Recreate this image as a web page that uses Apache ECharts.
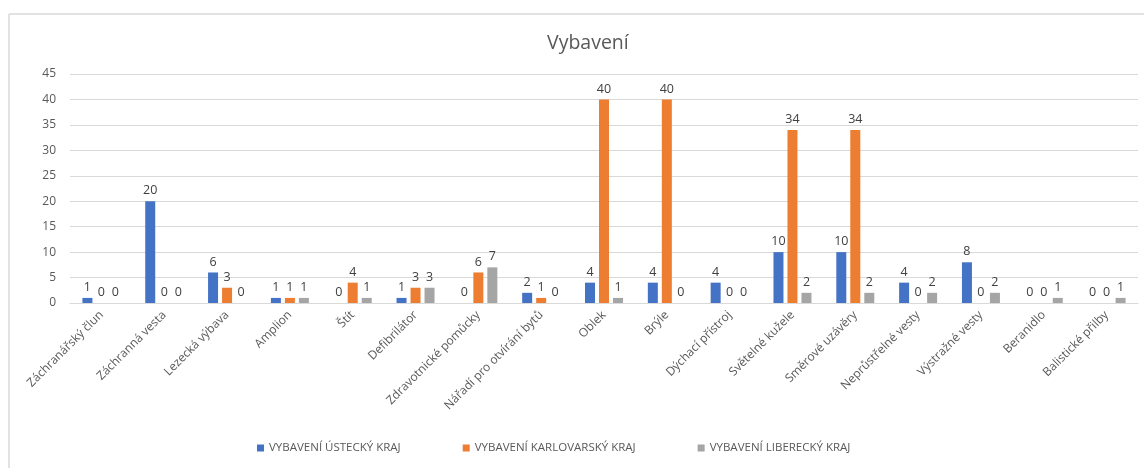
<!DOCTYPE html>
<html>
<head>
<meta charset="utf-8">
<script src="https://cdn.jsdelivr.net/npm/echarts@6/dist/echarts.min.js"></script>
<style>
  html, body { margin: 0; padding: 0; background: #fff; }
  #chart { width: 1144px; height: 468px; }
</style>
</head>
<body>
<div id="chart"></div>
<script>
var categories = ['Záchranářský člun', 'Záchranná vesta', 'Lezecká výbava', 'Amplion', 'Štít', 'Defibrilátor',
  'Zdravotnické pomůcky', 'Nářadí pro otvírání bytů', 'Oblek', 'Brýle', 'Dýchací přístroj', 'Světelné kužele',
  'Směrové uzávěry', 'Neprůstřelné vesty', 'Výstražné vesty', 'Beranidlo', 'Balistické přilby'];
var seriesNames = ['VYBAVENÍ ÚSTECKÝ KRAJ', 'VYBAVENÍ KARLOVARSKÝ KRAJ', 'VYBAVENÍ LIBERECKÝ KRAJ'];
var usteckyData = [1, 20, 6, 1, 0, 1, 0, 2, 4, 4, 4, 10, 10, 4, 8, 0, 0];
var karlovarskyData = [0, 0, 3, 1, 4, 3, 6, 1, 40, 40, 0, 34, 34, 0, 0, 0, 0];
var libereckyData = [0, 0, 0, 1, 1, 3, 7, 0, 1, 0, 0, 2, 2, 2, 2, 1, 1];
var colors = ['#4472c4', '#ed7d31', '#a5a5a5'];

var chart = echarts.init(document.getElementById('chart'));

var labelStyle = {
  show: true,
  position: 'top',
  color: '#404040',
  fontSize: 12.5,
  fontFamily: 'Open Sans',
  distance: 4
};

function makeSeries(name, data) {
  return {
    name: name,
    type: 'bar',
    data: data,
    barWidth: 10,
    barGap: '40%',
    label: labelStyle
  };
}

var option = {
  color: colors,
  title: {
    text: 'Vybavení',
    left: 542,
    top: 28,
    textStyle: { color: '#595959', fontSize: 19.5, fontWeight: 'normal', fontFamily: 'Open Sans' }
  },
  legend: {
    bottom: 9,
    left: 252,
    itemWidth: 7,
    itemHeight: 7,
    itemGap: 62,
    icon: 'rect',
    textStyle: { color: '#595959', fontSize: 11.5, fontFamily: 'Open Sans' }
  },
  grid: { left: 70, right: 6, top: 74, bottom: 165 },
  xAxis: {
    type: 'category',
    data: categories,
    axisTick: { show: false },
    axisLine: { lineStyle: { color: '#d9d9d9' } },
    axisLabel: {
      rotate: 45,
      interval: 0,
      color: '#595959',
      fontSize: 12,
      fontFamily: 'Open Sans',
      margin: 10
    }
  },
  yAxis: {
    type: 'value',
    min: 0,
    max: 45,
    interval: 5,
    axisLine: { show: false },
    axisTick: { show: false },
    splitLine: { lineStyle: { color: '#d9d9d9' } },
    axisLabel: { color: '#595959', fontSize: 12, fontFamily: 'Open Sans', margin: 14 }
  },
  graphic: [
    { type: 'line', shape: { x1: 9, y1: 14, x2: 1144, y2: 14 }, style: { stroke: '#d9d9d9', lineWidth: 1.5 } },
    { type: 'line', shape: { x1: 9, y1: 14, x2: 9, y2: 468 }, style: { stroke: '#d9d9d9', lineWidth: 1.5 } }
  ],
  series: [
    makeSeries(seriesNames[0], usteckyData),
    makeSeries(seriesNames[1], karlovarskyData),
    makeSeries(seriesNames[2], libereckyData)
  ]
};

chart.setOption(option);
</script>
</body>
</html>
